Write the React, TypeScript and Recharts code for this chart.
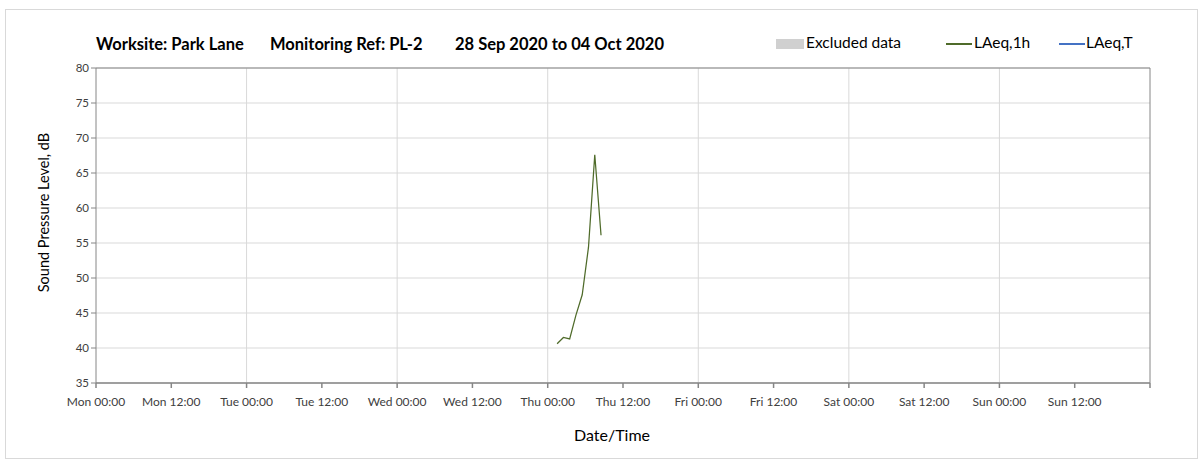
import React from 'react';
import { LineChart, Line, XAxis, YAxis, CartesianGrid, ReferenceLine } from 'recharts';

const dayNames = ['Mon', 'Tue', 'Wed', 'Thu', 'Fri', 'Sat', 'Sun'];
const xTicks = [0, 12, 24, 36, 48, 60, 72, 84, 96, 108, 120, 132, 144, 156, 168];
const dayLines = [24, 48, 72, 96, 120, 144, 168];
const yTicks = [35, 40, 45, 50, 55, 60, 65, 70, 75, 80];

// hours since Mon 00:00
const hours = [73.5, 74.5, 75.5, 76.5, 77.5, 78.5, 79.5, 80.5];
const laeq1h = [40.6, 41.5, 41.3, 44.7, 47.6, 54.4, 67.6, 56.1];

const titleParts = ['Worksite: Park Lane', 'Monitoring Ref: PL-2', '28 Sep 2020 to 04 Oct 2020'];

const data = hours.map((h, i) => ({ t: h, laeq1h: laeq1h[i] }));

const FONT = 'Lato, "Open Sans", sans-serif';
const GRID = '#d9d9d9';
const AXIS = '#868686';
const TICK_TEXT = '#404040';
const GREEN = '#4f6b2a';
const BLUE = '#4472c4';

const fmtTick = (v: number) => {
  if (v >= 168) return '';
  const d = dayNames[Math.floor(v / 24)];
  return `${d} ${v % 24 === 0 ? '00:00' : '12:00'}`;
};

const abs = (left: number, top: number, extra: React.CSSProperties = {}): React.CSSProperties => ({
  position: 'absolute',
  left,
  top,
  whiteSpace: 'pre',
  lineHeight: 1,
  ...extra,
});

const App: React.FC = () => {
  return (
    <div style={{ position: 'absolute', left: 0, top: 0, width: 1203, height: 466, background: '#fff', fontFamily: FONT }}>
      <div style={{ position: 'absolute', left: 5, top: 9, width: 1191, height: 448, border: `1px solid ${GRID}` }} />

      {/* title */}
      {[96, 270, 455].map((x, i) => (
        <div key={i} style={abs(x, 36, { fontSize: 16.5, fontWeight: 700, color: '#000' })}>
          {titleParts[i]}
        </div>
      ))}

      {/* legend */}
      <div style={abs(776, 39, { width: 28, height: 10, background: '#d0d0d0' })} />
      <div style={abs(806, 35, { fontSize: 15.5, color: '#000' })}>Excluded data</div>
      <div style={abs(946, 43, { width: 26, height: 1.5, background: GREEN })} />
      <div style={abs(974, 35, { fontSize: 15.5, color: '#000' })}>LAeq,1h</div>
      <div style={abs(1059, 43, { width: 26, height: 2, background: BLUE })} />
      <div style={abs(1086, 35, { fontSize: 15.5, color: '#000' })}>LAeq,T</div>

      <LineChart width={1203} height={466} data={data} margin={{ top: 68, right: 53, left: 36, bottom: 53 }}>
        <CartesianGrid vertical={false} stroke={GRID} />
        {dayLines.map((d) => (
          <ReferenceLine key={d} x={d} stroke={d === 168 ? AXIS : GRID} strokeWidth={1} />
        ))}
        <ReferenceLine y={80} stroke={AXIS} />
        <XAxis
          dataKey="t"
          type="number"
          domain={[0, 168]}
          ticks={xTicks}
          interval={0}
          tickFormatter={fmtTick}
          height={30}
          stroke={AXIS}
          strokeWidth={1.5}
          tickSize={5}
          tickMargin={9}
          tick={{ fontSize: 12, fill: TICK_TEXT, fontFamily: FONT }}
          label={{ value: 'Date/Time', position: 'bottom', offset: 17, dx: -11, fontSize: 16, fill: '#000', fontFamily: FONT }}
        />
        <YAxis
          type="number"
          domain={[35, 80]}
          ticks={yTicks}
          interval={0}
          width={60}
          stroke={AXIS}
          tickSize={5}
          tick={{ fontSize: 11.5, fill: TICK_TEXT, fontFamily: FONT }}
          label={{ value: 'Sound Pressure Level, dB', angle: -90, position: 'insideLeft', offset: 0, dx: 8, dy: -13, fontSize: 14.5, fill: '#000', fontFamily: FONT, style: { textAnchor: 'middle' } }}
        />
        <Line
          type="linear"
          dataKey="laeq1h"
          stroke={GREEN}
          strokeWidth={1.25}
          dot={false}
          isAnimationActive={false}
        />
      </LineChart>
    </div>
  );
};

export default App;
